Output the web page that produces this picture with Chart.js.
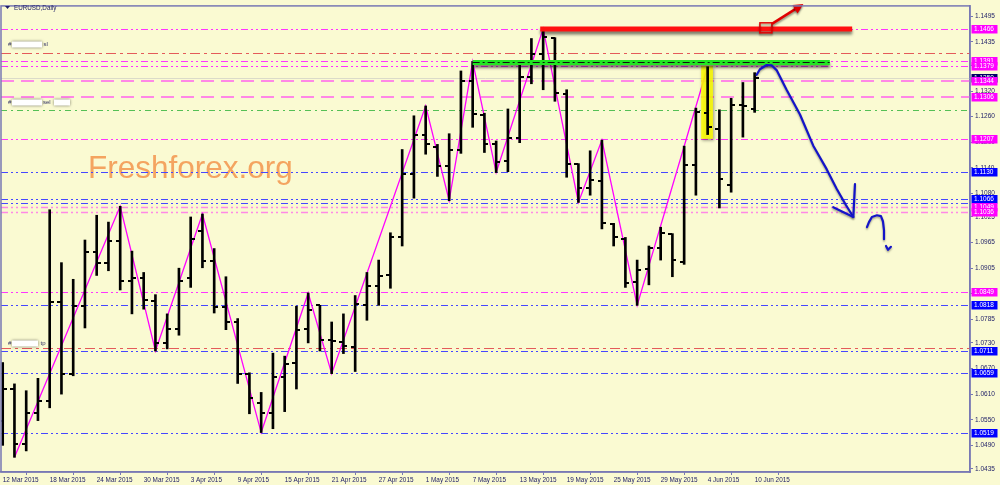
<!DOCTYPE html>
<html>
<head>
<meta charset="utf-8">
<script src="https://cdn.jsdelivr.net/npm/chart.js@4.4.1/dist/chart.umd.min.js"></script>
<style>
  html, body { margin: 0; padding: 0; background: #fafad2; }
  #wrap { width: 1000px; height: 485px; }
</style>
</head>
<body>
<div id="wrap"><canvas id="fx" width="1000" height="485"></canvas></div>
<script>
// daily bars, 12 Mar 2015 .. 10 Jun 2015 (index = bar number)
const opens  = [1.0548,1.0623,1.0493,1.0566,1.0595,1.0826,1.0657,1.0816,1.0943,1.0918,1.0969,1.0874,1.0883,1.0827,1.0730,1.0762,1.0881,1.0991,1.0922,1.0813,1.0779,1.0657,1.0589,1.0566,1.0651,1.0684,1.0763,1.0818,1.0736,1.0732,1.0721,1.0819,1.0864,1.0888,1.0977,1.1125,1.1217,1.1190,1.1145,1.1183,1.1344,1.1265,1.1197,1.1155,1.1210,1.1352,1.1406,1.1445,1.1313,1.1148,1.1093,1.1110,1.1008,1.0974,1.0872,1.0902,1.0953,1.0984,1.0919,1.1147,1.1269,1.1230,1.1100,1.1288,1.1279];
const highs  = [1.0684,1.0634,1.0618,1.0647,1.1042,1.0918,1.0879,1.0971,1.1029,1.1013,1.1050,1.0945,1.0895,1.0843,1.0798,1.0905,1.1025,1.1032,1.0951,1.0885,1.0787,1.0660,1.0614,1.0706,1.0699,1.0816,1.0847,1.0818,1.0779,1.0798,1.0841,1.0895,1.0924,1.0988,1.1183,1.1262,1.1285,1.1195,1.1220,1.1367,1.1389,1.1268,1.1203,1.1278,1.1381,1.1443,1.1466,1.1445,1.1323,1.1150,1.1180,1.1205,1.1010,1.0977,1.0924,1.0957,1.1001,1.0986,1.1191,1.1280,1.1377,1.1276,1.1303,1.1340,1.1363];
const lows   = [1.0490,1.0462,1.0477,1.0548,1.0578,1.0610,1.0653,1.0765,1.0888,1.0899,1.0854,1.0798,1.0809,1.0711,1.0716,1.0748,1.0860,1.0906,1.0800,1.0761,1.0635,1.0564,1.0520,1.0529,1.0569,1.0622,1.0730,1.0711,1.0658,1.0705,1.0663,1.0783,1.0818,1.0858,1.0957,1.1069,1.1172,1.1120,1.1063,1.1174,1.1235,1.1176,1.1129,1.1131,1.1199,1.1337,1.1323,1.1296,1.1118,1.1059,1.1076,1.0997,1.0957,1.0860,1.0818,1.0866,1.0924,1.0885,1.0914,1.1076,1.1218,1.1046,1.1083,1.1212,1.1270];
const closes = [1.0623,1.0493,1.0566,1.0595,1.0826,1.0658,1.0816,1.0942,1.0918,1.0969,1.0874,1.0883,1.0831,1.0730,1.0762,1.0876,1.0974,1.0922,1.0813,1.0779,1.0657,1.0600,1.0566,1.0651,1.0680,1.0760,1.0806,1.0736,1.0734,1.0723,1.0821,1.0864,1.0887,1.0977,1.1125,1.1218,1.1197,1.1145,1.1182,1.1344,1.1266,1.1197,1.1154,1.1210,1.1354,1.1406,1.1447,1.1315,1.1148,1.1093,1.1112,1.1011,1.0977,1.0871,1.0901,1.0953,1.0987,1.0924,1.1147,1.1272,1.1236,1.1114,1.1288,1.1286,1.1350];

// x axis date labels every 4 bars
const dateIdx = [0,4,8,12,16,20,24,28,32,36,40,44,48,52,56,60,64];
const dateLabels = ['12 Mar 2015','18 Mar 2015','24 Mar 2015','30 Mar 2015','3 Apr 2015','9 Apr 2015','15 Apr 2015','21 Apr 2015','27 Apr 2015','1 May 2015','7 May 2015','13 May 2015','19 May 2015','25 May 2015','29 May 2015','4 Jun 2015','10 Jun 2015'];

// price scale ticks
const priceTicks = [1.1495,1.1435,1.1380,1.1320,1.1260,1.1200,1.1140,1.1080,1.1025,1.0965,1.0905,1.0845,1.0785,1.0730,1.0670,1.0610,1.0550,1.0490,1.0435];

// zigzag pivots
const zzIdx   = [1,10,13,17,22,26,28,36,38,40,42,46,49,51,54,60];
const zzPrice = [1.0462,1.1050,1.0711,1.1032,1.0520,1.0847,1.0658,1.1285,1.1063,1.1389,1.1129,1.1466,1.1059,1.1205,1.0818,1.1377];

// horizontal levels
const levelPrices = [1.1466,1.1410,1.1391,1.1379,1.1344,1.1306,1.1275,1.1207,1.1130,1.1066,1.1058,1.1049,1.1036,1.0849,1.0818,1.0717,1.0711,1.0659,1.0519];
const levelKinds  = ['mag','red','mag','mag','pink','pink','green','mag','blue','blue','blue','pinkd','pinkd','mag','blue','red','blue','blue','blue'];
const tagPrices = [1.1466,1.1391,1.1379,1.1344,1.1306,1.1207,1.1130,1.1066,1.1049,1.1036,1.0849,1.0818,1.0711,1.0659,1.0519];
const tagKinds  = ['mag','mag','mag','mag','mag','mag','blue','blue','mag','mag','mag','blue','blue','blue','blue'];
const bidPrice = 1.1350;

// drawn objects: thick trend lines, highlight box, hand drawn forecast
const thickFrom  = [40, 45.75];
const thickTo    = [70.4, 72.3];
const thickPrice = [1.1387, 1.1465];
const boxIdx   = [59.45, 60.45];
const boxPrice = [1.1379, 1.1208];
const curveIdx   = [64.17,64.45,65.02,65.47,65.87,66.72,67.86,68.99,70.13,70.98,71.77,72.40];
const curvePrice = [1.1358,1.1371,1.1381,1.1380,1.1369,1.1323,1.1265,1.1192,1.1137,1.1091,1.1053,1.1025];
const headIdx   = [70.69,72.40,72.54];
const headPrice = [1.1048,1.1025,1.1102];
const qIdx   = [73.56,73.73,73.98,74.41,74.75,74.92,75.01,75.01];
const qPrice = [1.1001,1.1013,1.1025,1.1029,1.1027,1.1015,1.0994,1.0973];
const qDotIdx   = [75.18,75.35,75.6];
const qDotPrice = [1.0957,1.0948,1.0955];
const redArrowIdx   = [64.96,67.86];
const redArrowPrice = [1.1468,1.1519];

const C = {
  mag:   { color: '#ff33ff', width: 1, dash: [7,3,2,3,2,3] },
  red:   { color: '#e45a5a', width: 1, dash: [10,4,3,4] },
  pink:  { color: '#ff88e6', width: 2, dash: [13,7] },
  pinkd: { color: '#ff88e6', width: 1.5, dash: [7,3,2,3,2,3] },
  green: { color: '#55c055', width: 1, dash: [6,4,2,4] },
  blue:  { color: '#4646ff', width: 1, dash: [7,3,2,3,2,3] }
};
const tagColor = { mag: '#ff00ff', blue: '#0000ff' };
const axisColor = '#7878b4';
const textColor = '#1c1c66';

const overlay = {
  id: 'overlay',
  beforeDatasetsDraw(chart) {
    const { ctx, chartArea: a, scales: { x, y } } = chart;
    ctx.save();
    ctx.beginPath(); ctx.rect(a.left, a.top, a.width, a.height); ctx.clip();
    // watermark
    ctx.fillStyle = '#f4a460';
    ctx.font = '31.5px "Liberation Sans", Arial, sans-serif';
    ctx.textBaseline = 'alphabetic';
    ctx.fillText('Freshforex.org', 88, 178);
    // bid line
    ctx.strokeStyle = 'rgba(215,215,200,0.9)';
    ctx.lineWidth = 1;
    ctx.beginPath();
    ctx.moveTo(a.left, Math.round(y.getPixelForValue(bidPrice)) + 0.5);
    ctx.lineTo(a.right, Math.round(y.getPixelForValue(bidPrice)) + 0.5);
    ctx.stroke();
    // levels
    levelPrices.forEach((p, k) => {
      const s = C[levelKinds[k]];
      const py = Math.round(y.getPixelForValue(p)) + (s.width % 2 ? 0.5 : 0);
      ctx.strokeStyle = s.color;
      ctx.lineWidth = s.width;
      ctx.setLineDash(s.dash);
      ctx.beginPath();
      ctx.moveTo(a.left, py);
      ctx.lineTo(a.right, py);
      ctx.stroke();
    });
    ctx.restore();
  },
  afterDatasetDraw(chart, args) {
    if (args.index !== 1) return;
    const { ctx, scales: { x, y } } = chart;
    const x0 = x.getPixelForValue(boxIdx[0]), x1 = x.getPixelForValue(boxIdx[1]);
    const y0 = y.getPixelForValue(boxPrice[0]), y1 = y.getPixelForValue(boxPrice[1]);
    ctx.save();
    ctx.shadowColor = 'rgba(0,0,0,0.45)';
    ctx.shadowBlur = 3; ctx.shadowOffsetX = 1; ctx.shadowOffsetY = 2;
    ctx.fillStyle = 'rgba(255,255,0,0.85)';
    ctx.fillRect(x0, y0, x1 - x0, y1 - y0);
    ctx.restore();
  },
  afterDatasetsDraw(chart) {
    const { ctx, chartArea: a, scales: { x, y } } = chart;
    ctx.save();
    ctx.beginPath(); ctx.rect(a.left, 0, a.width, a.bottom); ctx.clip();
    // open / close ticks
    ctx.fillStyle = '#000';
    opens.forEach((o, i) => {
      const px = Math.round(x.getPixelForValue(i));
      ctx.fillRect(px - 4, Math.round(y.getPixelForValue(o)) - 1, 4, 2);
      ctx.fillRect(px, Math.round(y.getPixelForValue(closes[i])) - 1, 4, 2);
    });
    // thick lines (green, red)
    const thickColors = ['#22e622', '#ff1010'];
    thickPrice.forEach((p, k) => {
      const py = y.getPixelForValue(p);
      ctx.save();
      ctx.shadowColor = 'rgba(0,0,0,0.5)';
      ctx.shadowBlur = 3; ctx.shadowOffsetY = 3;
      ctx.strokeStyle = thickColors[k];
      ctx.lineWidth = 5;
      ctx.beginPath();
      ctx.moveTo(x.getPixelForValue(thickFrom[k]), py);
      ctx.lineTo(x.getPixelForValue(thickTo[k]), py);
      ctx.stroke();
      ctx.restore();
    });
    // dash-dot line on the green
    ctx.strokeStyle = '#111';
    ctx.lineWidth = 1;
    ctx.setLineDash([7,3,2,3]);
    ctx.beginPath();
    ctx.moveTo(x.getPixelForValue(thickFrom[0]), Math.round(y.getPixelForValue(thickPrice[0])) + 0.5);
    ctx.lineTo(x.getPixelForValue(thickTo[0]), Math.round(y.getPixelForValue(thickPrice[0])) + 0.5);
    ctx.stroke();
    ctx.setLineDash([]);
    // red anchor square and arrow
    const sx = x.getPixelForValue(redArrowIdx[0]), sy = y.getPixelForValue(redArrowPrice[0]);
    const ex = x.getPixelForValue(redArrowIdx[1]), ey = y.getPixelForValue(redArrowPrice[1]);
    ctx.save();
    ctx.shadowColor = 'rgba(0,0,0,0.4)'; ctx.shadowBlur = 2; ctx.shadowOffsetY = 2;
    ctx.strokeStyle = '#e00000';
    ctx.lineWidth = 1.5;
    ctx.strokeRect(sx - 6, sy - 5, 12, 10);
    ctx.lineWidth = 2.5;
    ctx.beginPath(); ctx.moveTo(sx + 6, sy - 4); ctx.lineTo(ex, ey); ctx.stroke();
    const ang = Math.atan2(ey - (sy - 4), ex - (sx + 6));
    ctx.fillStyle = '#e00000';
    ctx.beginPath();
    ctx.moveTo(ex + 4 * Math.cos(ang), ey + 4 * Math.sin(ang));
    ctx.lineTo(ex - 6 * Math.cos(ang) + 5 * Math.sin(ang), ey - 6 * Math.sin(ang) - 5 * Math.cos(ang));
    ctx.lineTo(ex - 6 * Math.cos(ang) - 5 * Math.sin(ang), ey - 6 * Math.sin(ang) + 5 * Math.cos(ang));
    ctx.closePath(); ctx.fill();
    ctx.restore();
    // hand drawn forecast
    const path = (ix, pr) => {
      ctx.beginPath();
      ix.forEach((v, k) => {
        const px = x.getPixelForValue(v), py = y.getPixelForValue(pr[k]);
        if (k === 0) ctx.moveTo(px, py); else ctx.lineTo(px, py);
      });
      ctx.stroke();
    };
    ctx.save();
    ctx.shadowColor = 'rgba(0,0,0,0.35)'; ctx.shadowBlur = 2; ctx.shadowOffsetY = 1.5;
    ctx.strokeStyle = '#1414c8';
    ctx.lineWidth = 2.2;
    ctx.lineJoin = 'round'; ctx.lineCap = 'round';
    path(curveIdx, curvePrice);
    path(headIdx, headPrice);
    path(qIdx, qPrice);
    path(qDotIdx, qDotPrice);
    ctx.restore();
    ctx.restore();
  },
  afterDraw(chart) {
    const { ctx, chartArea: a, scales: { y } } = chart;
    ctx.save();
    // frame
    ctx.strokeStyle = axisColor;
    ctx.lineWidth = 1.5;
    ctx.strokeRect(a.left, a.top, a.width, a.height);
    // price tags
    ctx.font = '6.5px "Liberation Sans", Arial, sans-serif';
    ctx.textBaseline = 'middle';
    const tag = (p, bg) => {
      const py = Math.round(y.getPixelForValue(p));
      ctx.fillStyle = bg;
      ctx.fillRect(a.right + 1.5, py - 4, 26, 8.5);
      ctx.fillStyle = '#fff';
      ctx.fillText(p.toFixed(4), a.right + 4, py + 0.5);
    };
    tag(bidPrice, '#000066');
    tagPrices.forEach((p, k) => tag(p, tagColor[tagKinds[k]]));
    // title
    ctx.fillStyle = textColor;
    ctx.beginPath(); ctx.moveTo(5, 6); ctx.lineTo(10, 6); ctx.lineTo(7.5, 9); ctx.closePath(); ctx.fill();
    ctx.font = '6.3px "Liberation Sans", Arial, sans-serif';
    ctx.fillText('EURUSD,Daily', 14, 8);
    // object labels on the left
    const box = (bx, by, w) => {
      ctx.save();
      ctx.shadowColor = 'rgba(0,0,0,0.55)'; ctx.shadowBlur = 3;
      ctx.fillStyle = '#ffffff';
      ctx.fillRect(bx, by - 3, w, 6);
      ctx.restore();
    };
    ctx.fillStyle = '#333366';
    ctx.font = '6px "Liberation Sans", Arial, sans-serif';
    ctx.fillText('#', 8, 44.5); box(12, 44.5, 30); ctx.fillStyle = '#333366'; ctx.fillText('sl', 43.5, 44.5);
    ctx.fillText('#', 8, 102.5); box(12, 102.5, 30); ctx.fillStyle = '#333366'; ctx.fillText('sel', 43, 102.5); box(54, 102.5, 16);
    ctx.fillStyle = '#333366';
    ctx.fillText('#', 8, 343.5); box(12, 343.5, 26); ctx.fillStyle = '#333366'; ctx.fillText('tp', 40.5, 343.5);
    ctx.restore();
  }
};

new Chart(document.getElementById('fx'), {
  type: 'line',
  data: {
    datasets: [
      {
        type: 'bar',
        label: 'range',
        data: highs.map((h, i) => ({ x: i, y: [lows[i], h] })),
        backgroundColor: '#000000',
        borderWidth: 0,
        barThickness: 2,
        grouped: false,
        order: 0
      },
      {
        type: 'line',
        label: 'zigzag',
        data: zzIdx.map((v, k) => ({ x: v, y: zzPrice[k] })),
        borderColor: '#ff00ff',
        borderWidth: 1.3,
        pointRadius: 0,
        tension: 0,
        order: 1
      }
    ]
  },
  options: {
    responsive: false,
    devicePixelRatio: 1,
    animation: false,
    layout: { padding: { left: 1, top: 2, right: 0, bottom: 0 } },
    plugins: { legend: { display: false }, tooltip: { enabled: false } },
    scales: {
      x: {
        type: 'linear',
        offset: false,
        min: -0.145,
        max: 82.33,
        afterBuildTicks: (s) => { s.ticks = dateIdx.map(v => ({ value: v })); },
        afterFit: (s) => { s.height = 13; },
        grid: { drawOnChartArea: false, drawTicks: true, tickLength: 3, color: axisColor },
        border: { display: true, color: axisColor, width: 1.5 },
        ticks: {
          autoSkip: false, maxRotation: 0, minRotation: 0, align: 'start', padding: 1,
          color: textColor, font: { size: 6.4, family: '"Liberation Sans", Arial, sans-serif' },
          callback: (v) => dateLabels[dateIdx.indexOf(v)]
        }
      },
      y: {
        type: 'linear',
        position: 'right',
        min: 1.04276,
        max: 1.15194,
        afterBuildTicks: (s) => { s.ticks = priceTicks.map(v => ({ value: v })); },
        afterFit: (s) => { s.width = 30; },
        grid: { drawOnChartArea: false, drawTicks: true, tickLength: 3, color: axisColor },
        border: { display: true, color: axisColor, width: 1.5 },
        ticks: {
          padding: 2, color: textColor,
          font: { size: 6.5, family: '"Liberation Sans", Arial, sans-serif' },
          callback: (v) => v.toFixed(4)
        }
      }
    }
  },
  plugins: [overlay]
});
</script>
</body>
</html>
